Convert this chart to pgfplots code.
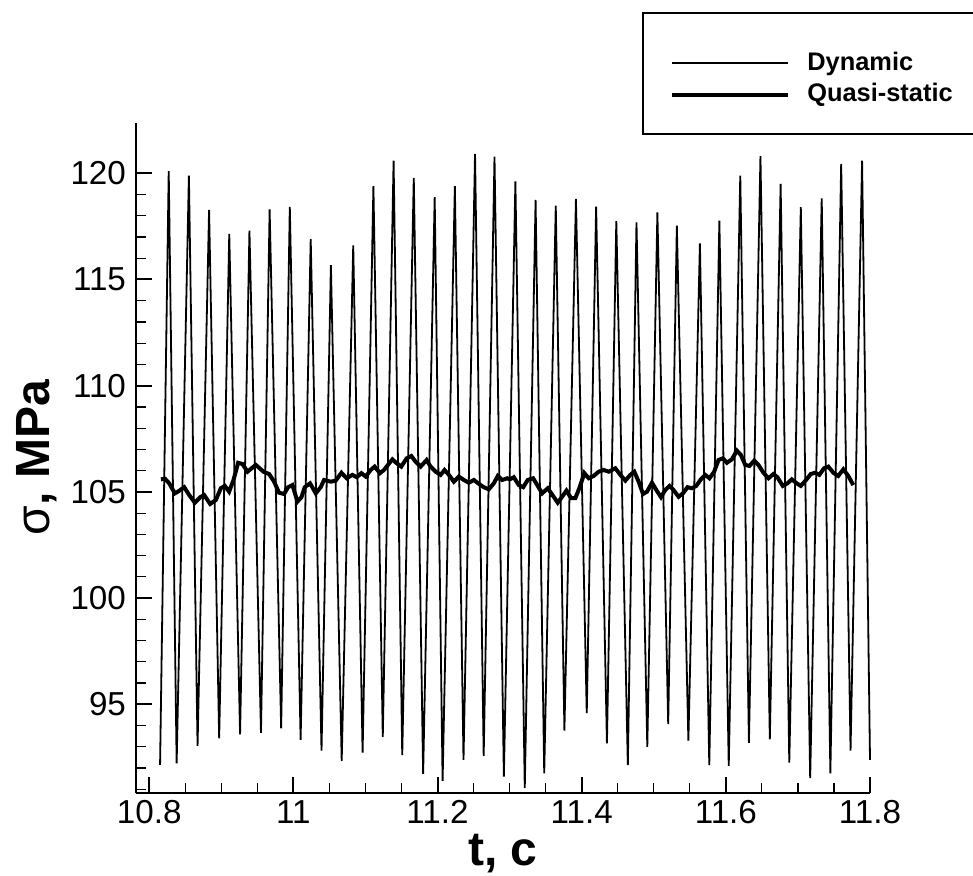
\documentclass[border=0pt]{standalone}
\usepackage{fontspec}
\setmainfont{Liberation Sans}
\usepackage{pgfplots}
\pgfplotsset{compat=1.18}
\pgfplotsset{dyn legend/.style={legend image code/.code={%
  \draw[##1] (0pt,-2.8pt) -- (58.3pt,-2.8pt);}}}

\begin{document}
\begin{tikzpicture}
\path[use as bounding box] (-68pt,-41.35pt) rectangle (418.5pt,396.65pt);
\begin{axis}[
    scale only axis, width=367pt, height=335.3pt,
    xmin=10.7816, xmax=11.8, ymin=90.81, ymax=122.38,
    clip=false,
    axis x line=bottom, axis y line=left,
    axis line style={line width=1pt, -},
    tick align=inside,
    xtick distance=0.2, ytick distance=5,
    minor x tick num=3, minor y tick num=4,
    major tick length=8pt, minor tick length=5pt,
    major tick style={line width=1pt, black},
    minor tick style={line width=0.6pt, black},
    tick label style={font=\fontsize{16.6}{18}\selectfont},
    yticklabel style={xshift=-1.5pt},
    /pgf/number format/assume math mode=true,
    xlabel={t, c}, ylabel={{\mdseries σ}, MPa},
    label style={font=\bfseries\fontsize{24}{28}\selectfont},
    xlabel style={at={(axis description cs:0.5,-0.1083)}, anchor=base},
    ylabel style={at={(axis description cs:-0.1172,0.5007)}, anchor=base},
    legend style={draw=black, line width=1pt, fill=white,
      at={(0.6898,1.1655)}, anchor=north west,
      inner xsep=13.2pt, inner ysep=11.5pt, row sep=0pt,
      font=\bfseries\fontsize{12.7}{14}\selectfont,
      nodes={inner xsep=8.5pt, inner ysep=1.9pt, text height=9.3pt, text depth=2.7pt}},
    legend cell align=left,
    legend image code/.code={\draw[#1] (0pt,0pt) -- (58.3pt,0pt);},
]
% Dynamic: peaks and troughs
\addplot[line width=0.9pt, black, dyn legend] coordinates {
  (10.815,92.15) (10.827,120.10) (10.838,92.22) (10.855,119.89)
  (10.867,93.04) (10.883,118.27) (10.897,93.40) (10.911,117.14)
  (10.926,93.59) (10.939,117.30) (10.955,93.66) (10.967,118.30)
  (10.983,93.87) (10.995,118.41) (11.010,93.32) (11.024,116.90)
  (11.039,92.82) (11.052,115.67) (11.067,92.34) (11.083,116.60)
  (11.096,92.72) (11.111,119.39) (11.124,93.47) (11.139,120.59)
  (11.151,92.61) (11.167,119.78) (11.180,91.72) (11.196,118.88)
  (11.207,91.39) (11.224,119.39) (11.236,92.38) (11.252,120.91)
  (11.264,92.57) (11.279,120.78) (11.292,91.59) (11.308,119.62)
  (11.321,91.05) (11.336,118.74) (11.348,91.75) (11.364,118.47)
  (11.376,93.76) (11.392,118.79) (11.407,94.58) (11.420,118.43)
  (11.435,93.16) (11.448,117.75) (11.464,92.14) (11.476,117.69)
  (11.491,93.00) (11.505,118.16) (11.520,94.07) (11.532,117.53)
  (11.548,93.29) (11.564,116.70) (11.577,92.14) (11.591,117.77)
  (11.604,92.10) (11.620,119.89) (11.632,93.19) (11.648,120.80)
  (11.661,93.35) (11.676,119.50) (11.688,92.25) (11.704,118.40)
  (11.717,91.52) (11.733,118.82) (11.745,91.75) (11.760,120.44)
  (11.773,92.82) (11.789,120.59) (11.800,92.38)
};
\addlegendentry[text height=15.3pt]{Dynamic}
% Quasi-static
\addplot[line width=2pt, black] coordinates {
  (10.8162,105.59) (10.8218,105.62) (10.8277,105.40) (10.8356,104.93)
  (10.8416,105.05) (10.8485,105.22) (10.8554,104.85) (10.8633,104.49)
  (10.8707,104.75) (10.8762,104.85) (10.8845,104.43) (10.8924,104.62)
  (10.8993,105.17) (10.9049,105.28) (10.9108,105.01) (10.9169,105.56)
  (10.9233,106.37) (10.9294,106.31) (10.9363,105.95) (10.9478,106.27)
  (10.9585,105.95) (10.9663,105.84) (10.9732,105.48) (10.9801,104.96)
  (10.9871,104.90) (10.9926,105.22) (10.9987,105.32) (11.0056,104.54)
  (11.0112,104.75) (11.0157,105.22) (11.0231,105.40) (11.0310,104.93)
  (11.0379,105.22) (11.0425,105.56) (11.0518,105.48) (11.0587,105.53)
  (11.0666,105.90) (11.0739,105.64) (11.0818,105.80) (11.0878,105.69)
  (11.0943,105.88) (11.1003,105.72) (11.1072,106.03) (11.1127,106.19)
  (11.1201,105.88) (11.1256,106.03) (11.1312,106.27) (11.1373,106.53)
  (11.1432,106.35) (11.1497,106.19) (11.1571,106.58) (11.1636,106.69)
  (11.1695,106.42) (11.1765,106.19) (11.1848,106.50) (11.1903,106.19)
  (11.1973,105.95) (11.2042,105.80) (11.2097,106.03) (11.2157,105.80)
  (11.2226,105.48) (11.2295,105.72) (11.2365,105.56) (11.2434,105.43)
  (11.2503,105.56) (11.2596,105.32) (11.2642,105.22) (11.2711,105.12)
  (11.2780,105.40) (11.2836,105.75) (11.2897,105.56) (11.2966,105.64)
  (11.3002,105.59) (11.3058,105.69) (11.3127,105.32) (11.3188,105.22)
  (11.3251,105.56) (11.3326,105.64) (11.3390,105.28) (11.3451,104.93)
  (11.3529,105.17) (11.3603,104.81) (11.3667,104.49) (11.3728,104.77)
  (11.3788,105.06) (11.3853,104.70) (11.3912,104.70) (11.3972,105.22)
  (11.4037,105.88) (11.4097,105.64) (11.4166,105.75) (11.4235,105.95)
  (11.4305,106.03) (11.4374,105.95) (11.4467,106.11) (11.4536,105.80)
  (11.4605,105.53) (11.4675,105.80) (11.4730,105.95) (11.4790,105.48)
  (11.4851,104.90) (11.4906,105.01) (11.4975,105.43) (11.5035,105.09)
  (11.5100,104.75) (11.5159,105.09) (11.5219,105.28) (11.5274,105.09)
  (11.5344,104.77) (11.5405,104.93) (11.5468,105.22) (11.5529,105.17)
  (11.5589,105.28) (11.5654,105.59) (11.5714,105.80) (11.5773,105.64)
  (11.5838,105.95) (11.5898,106.50) (11.5959,106.58) (11.6014,106.37)
  (11.6083,106.53) (11.6153,106.94) (11.6208,106.74) (11.6268,106.27)
  (11.6327,106.22) (11.6393,106.47) (11.6452,106.27) (11.6521,105.90)
  (11.6591,105.64) (11.6660,105.84) (11.6715,105.69) (11.6790,105.28)
  (11.6854,105.40) (11.6915,105.59) (11.6984,105.40) (11.7040,105.28)
  (11.7113,105.56) (11.7178,105.84) (11.7238,105.90) (11.7297,105.80)
  (11.7362,106.11) (11.7422,106.19) (11.7491,105.90) (11.7560,105.75)
  (11.7630,106.06) (11.7699,105.75) (11.7768,105.32)
};
\addlegendentry{Quasi-static}
\end{axis}
\end{tikzpicture}
\end{document}
